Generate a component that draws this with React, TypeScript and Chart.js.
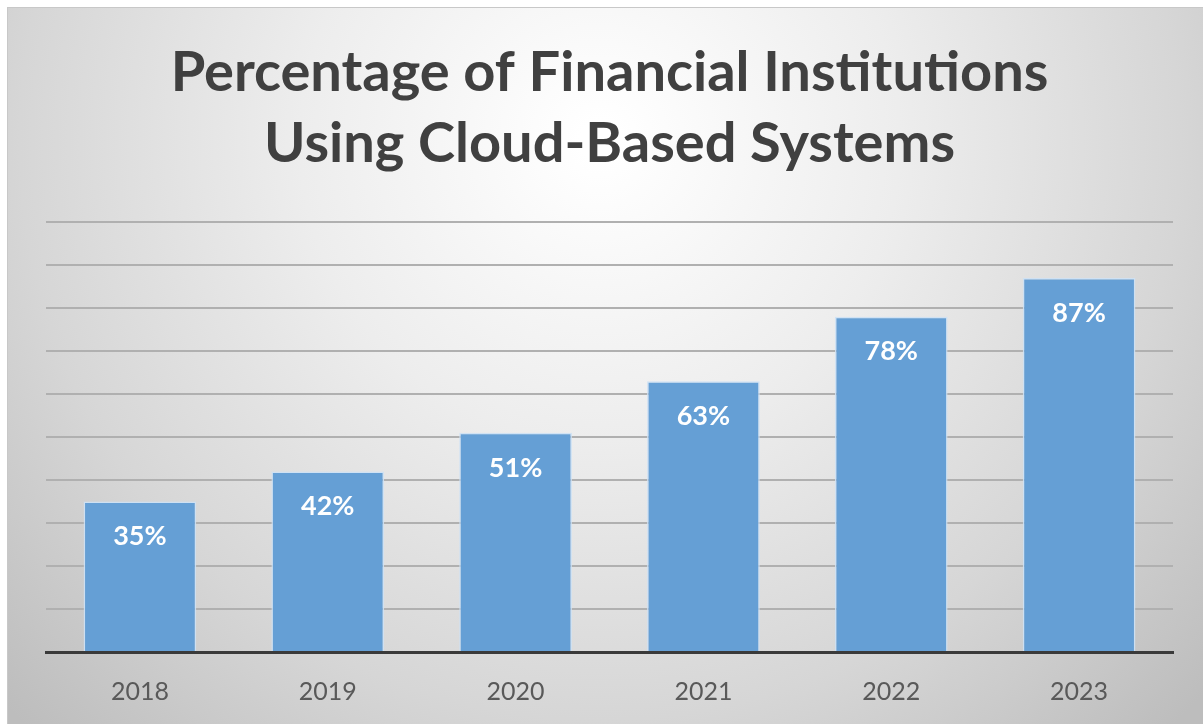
import React, { useEffect, useRef } from "react";
import { Chart, registerables } from "chart.js";

Chart.register(...registerables);

const categories = ["2018", "2019", "2020", "2021", "2022", "2023"];
const values = [35, 42, 51, 63, 78, 87];
const titleLines = ["Percentage of Financial Institutions", "Using Cloud-Based Systems"];

const bgPlugin = {
  id: "bg",
  beforeDraw(chart: any) {
    const { ctx, width, height } = chart;
    ctx.save();
    ctx.fillStyle = "#ffffff";
    ctx.fillRect(0, 0, width, height);
    const g = ctx.createRadialGradient(600, 140, 20, 600, 140, 820);
    g.addColorStop(0, "#ffffff");
    g.addColorStop(0.35, "#ededed");
    g.addColorStop(0.7, "#d6d6d6");
    g.addColorStop(1, "#bdbdbd");
    ctx.fillStyle = g;
    ctx.fillRect(7, 7, width - 7, height - 7);
    ctx.strokeStyle = "#c8c8c8";
    ctx.lineWidth = 1;
    ctx.strokeRect(7.5, 7.5, width, height);
    ctx.restore();
  },
};

const labelPlugin = {
  id: "barLabels",
  afterDatasetsDraw(chart: any) {
    const { ctx } = chart;
    const meta = chart.getDatasetMeta(0);
    ctx.save();
    ctx.fillStyle = "#ffffff";
    ctx.font = "bold 27px Lato";
    ctx.textAlign = "center";
    ctx.textBaseline = "middle";
    meta.data.forEach((bar: any, i: number) => {
      ctx.fillText(values[i] + "%", bar.x, bar.y + 35);
    });
    ctx.restore();
  },
};

export default function App() {
  const ref = useRef<HTMLCanvasElement>(null);
  useEffect(() => {
    document.body.style.margin = "0";
    const chart = new Chart(ref.current!, {
      type: "bar",
      data: {
        labels: categories,
        datasets: [
          {
            data: values,
            backgroundColor: "#659fd5",
            borderColor: "rgba(205,225,245,0.9)",
            borderWidth: 1.5,
            barPercentage: 0.6,
            categoryPercentage: 1,
          },
        ],
      },
      options: {
        animation: false,
        responsive: false,
        layout: { padding: { left: 46, right: 30, top: 0, bottom: -8 } },
        plugins: {
          legend: { display: false },
          tooltip: { enabled: false },
          title: {
            display: true,
            text: titleLines,
            color: "#404040",
            font: { family: "Lato", size: 56, weight: "bold", lineHeight: 1.27 },
            padding: { top: 37, bottom: 43 },
          },
        },
        scales: {
          x: {
            z: 1,
            grid: { display: false, drawTicks: false },
            border: { display: true, color: "#3a3a3a", width: 3 },
            ticks: { color: "#595959", font: { family: "Lato", size: 25 }, padding: 25 },
          },
          y: {
            min: 0,
            max: 100,
            ticks: { display: false, stepSize: 10 },
            grid: {
              drawTicks: false,
              color: (c: any) => (c.tick && c.tick.value === 0 ? "rgba(0,0,0,0)" : "#b0b0b0"),
              lineWidth: 2,
            },
            border: { display: false },
          },
        },
      },
      plugins: [bgPlugin, labelPlugin],
    });
    return () => chart.destroy();
  }, []);
  return <canvas ref={ref} width={1203} height={724} style={{ display: "block" }} />;
}
